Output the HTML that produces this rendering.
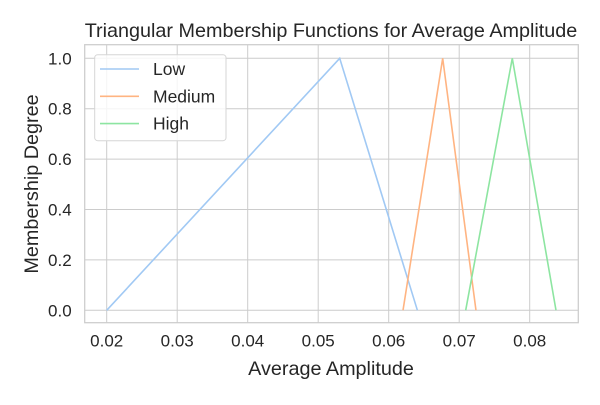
<!DOCTYPE html>
<html><head><meta charset="utf-8"><style>
body{margin:0;background:#fff;}
svg text{font-family:"Liberation Sans",Arial,sans-serif;fill:#262626;}
</style></head><body>
<svg id="chart" width="600" height="400" xmlns="http://www.w3.org/2000/svg"></svg>
<script>
const xTicks=[0.02,0.03,0.04,0.05,0.06,0.07,0.08];
const yTicks=[0.0,0.2,0.4,0.6,0.8,1.0];
const seriesNames=["Low","Medium","High"];
const lowX=[0.02,0.05305,0.06407];
const medX=[0.06203,0.06766,0.07238];
const highX=[0.07092,0.07753,0.08373];
const triY=[0,1,0];
const colors=["#a1c9f4","#ffb482","#8de5a1"];
const NS="http://www.w3.org/2000/svg";
const svg=document.getElementById('chart');
const L=84.7,R=578.3,T=44.7,B=322.7;
function sx(v){return 106.7+(v-0.02)/0.01*70.5;}
function sy(v){return 310.3-v*252;}
function mk(tag,attrs,parent){const e=document.createElementNS(NS,tag);for(const k in attrs)e.setAttribute(k,attrs[k]);(parent||svg).appendChild(e);return e;}
const grid=mk('g',{});


xTicks.forEach(t=>{
  const l=mk('line',{x1:sx(t),x2:sx(t),y1:T,y2:B,stroke:'#cccccc','stroke-width':1},grid);
  
  
  const tx=mk('text',{x:sx(t),y:B+24,'text-anchor':'middle','font-size':17});
  tx.textContent=t.toFixed(2);
  
  
});
yTicks.forEach(t=>{
  const l=mk('line',{x1:L,x2:R,y1:sy(t),y2:sy(t),stroke:'#cccccc','stroke-width':1},grid);
  
  
  const tx=mk('text',{x:L-13,y:sy(t)+6,'text-anchor':'end','font-size':17});
  tx.textContent=t.toFixed(1);
  
  
});
const frame=mk('rect',{x:L,y:T,width:R-L,height:B-T,fill:'none',stroke:'#cccccc','stroke-width':1.25});


[lowX,medX,highX].forEach((xs,i)=>{
  const pts=xs.map((x,j)=>sx(x)+','+sy(triY[j])).join(' ');
  const p=mk('polyline',{points:pts,fill:'none',stroke:colors[i],'stroke-width':1.6});
  
  
});
const lg=mk('g',{});


mk('rect',{x:94.7,y:54.7,width:131.3,height:86,rx:3,fill:'#fff','fill-opacity':0.8,stroke:'#d6d6d6'},lg);
seriesNames.forEach((n,i)=>{
  const y=69+i*27.3;
  mk('line',{x1:100,x2:139,y1:y,y2:y,stroke:colors[i],'stroke-width':1.6},lg);
  const t=mk('text',{x:153,y:y+6,'font-size':17.5},lg);
  t.textContent=n;
  
  
});
const title=mk('text',{x:331,y:37,'text-anchor':'middle','font-size':19.8});
title.textContent='Triangular Membership Functions for Average Amplitude';


const xl=mk('text',{x:331,y:375,'text-anchor':'middle','font-size':19.8});
xl.textContent='Average Amplitude';


const yl=mk('text',{x:0,y:0,'text-anchor':'middle','font-size':19.8,transform:'translate(38,184) rotate(-90)'});
yl.textContent='Membership Degree';


</script>
</body></html>
